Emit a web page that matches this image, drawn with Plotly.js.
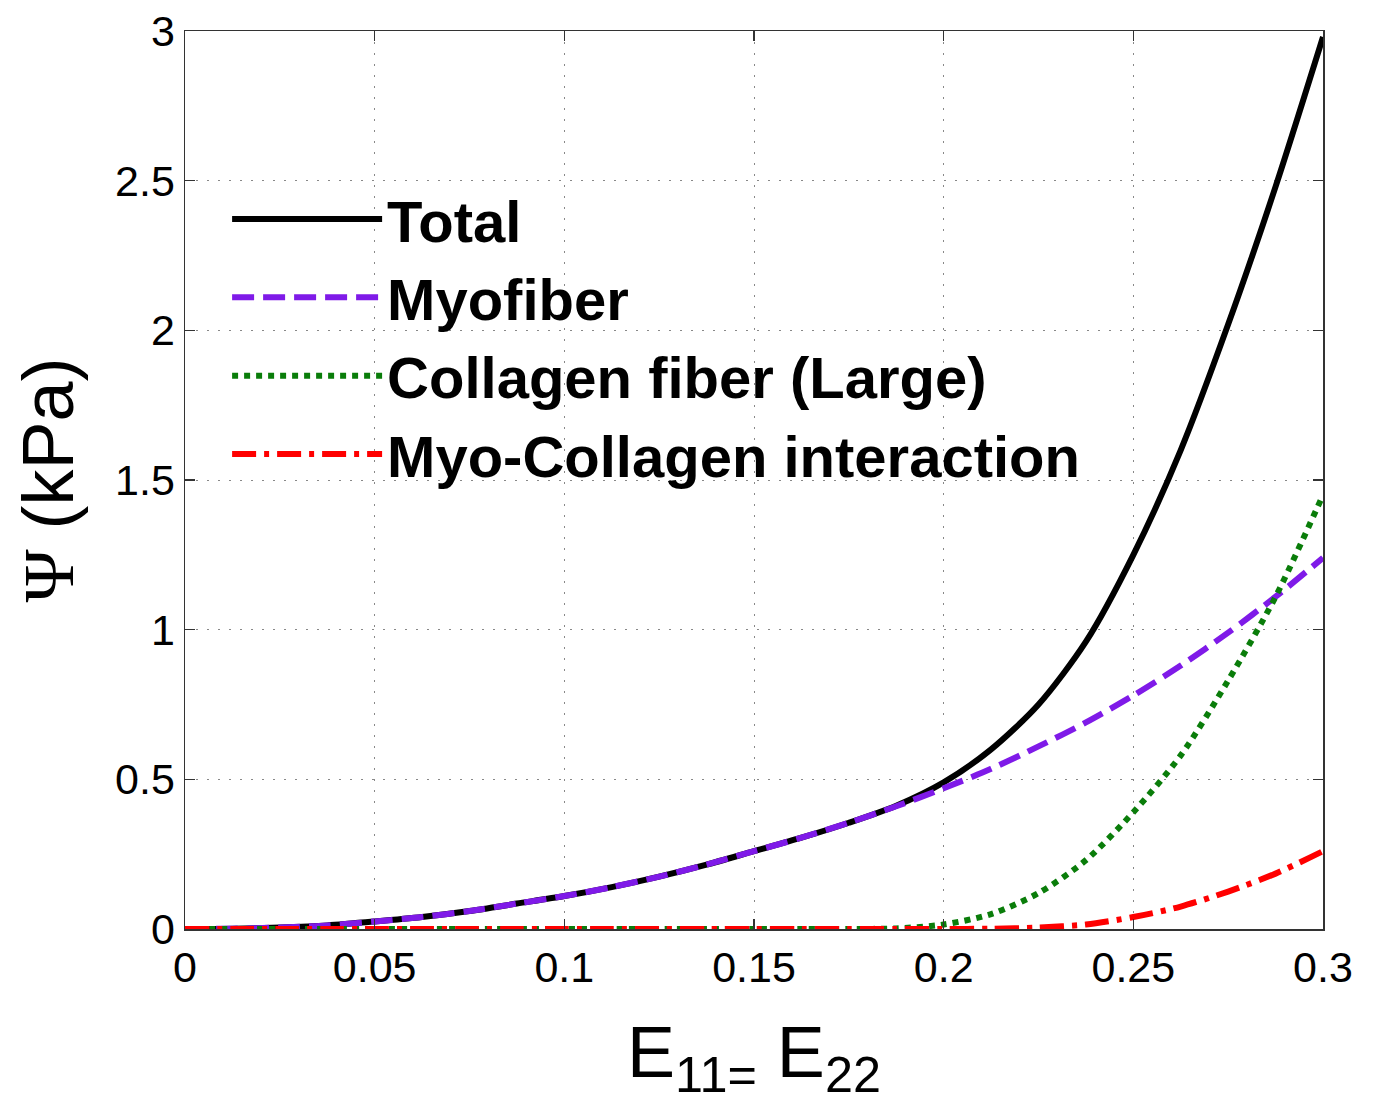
<!DOCTYPE html>
<html>
<head>
<meta charset="utf-8">
<script src="https://cdn.plot.ly/plotly-3.0.1.min.js"></script>
<style>html,body{margin:0;padding:0;background:#fff;}#chart{width:1375px;height:1104px;}</style>
</head>
<body>
<div id="chart"></div>
<script>
// Strain values E11 = E22
const strain = [0, 0.0125, 0.025, 0.0375, 0.05, 0.0625, 0.075, 0.0875, 0.1, 0.1125, 0.125, 0.1375, 0.15,
                0.1625, 0.175, 0.1875, 0.2, 0.2125, 0.225, 0.2375, 0.25, 0.2625, 0.275, 0.2875, 0.3];
// Strain energy (kPa)
const total       = [0, 0.001, 0.005, 0.012, 0.025, 0.04, 0.06, 0.085, 0.11, 0.14, 0.175, 0.215, 0.26,
                     0.305, 0.355, 0.412, 0.49, 0.60, 0.75, 0.96, 1.25, 1.60, 2.02, 2.48, 2.98];
const myofiber    = [0, 0.001, 0.005, 0.012, 0.025, 0.04, 0.06, 0.085, 0.11, 0.14, 0.175, 0.215, 0.26,
                     0.305, 0.355, 0.41, 0.47, 0.535, 0.61, 0.69, 0.78, 0.88, 0.99, 1.11, 1.24];
const collagen    = [0, 0, 0, 0, 0, 0, 0, 0, 0, 0, 0, 0, 0,
                     0, 0, 0.002, 0.015, 0.05, 0.12, 0.23, 0.39, 0.58, 0.83, 1.11, 1.45];
const interaction = [0, 0, 0, 0, 0, 0, 0, 0, 0, 0, 0, 0, 0,
                     0, 0, 0, 0, 0.001, 0.005, 0.015, 0.04, 0.075, 0.125, 0.185, 0.26];
const names = ['Total', 'Myofiber', 'Collagen fiber (Large)', 'Myo-Collagen interaction'];
const xTicks = [0, 0.05, 0.1, 0.15, 0.2, 0.25, 0.3];
const xTickText = ['0', '0.05', '0.1', '0.15', '0.2', '0.25', '0.3'];
const yTicks = [0, 0.5, 1, 1.5, 2, 2.5, 3];
const yTickText = ['0', '0.5', '1', '1.5', '2', '2.5', '3'];

const FONT = 'Liberation Sans, Arial, sans-serif';

const traces = [
  {x: strain, y: total, name: names[0], mode: 'lines', line: {color: '#000000', width: 6, shape: 'spline', smoothing: 0.8}},
  {x: strain, y: myofiber, name: names[1], mode: 'lines', line: {color: '#7f1ae8', width: 6, dash: '22px,9px', shape: 'spline', smoothing: 0.8}},
  {x: strain, y: collagen, name: names[2], mode: 'lines', line: {color: '#0a7d0a', width: 6, dash: '6px,6px', shape: 'spline', smoothing: 0.8}},
  {x: strain, y: interaction, name: names[3], mode: 'lines', line: {color: '#ff0000', width: 6, dash: '24px,8px,5px,8px', shape: 'spline', smoothing: 0.8}}
];

const axisCommon = {
  showline: true, mirror: 'ticks', linecolor: '#333', linewidth: 1.5,
  ticks: 'inside', ticklen: 10, tickwidth: 1.5, tickcolor: '#333',
  showgrid: true, gridcolor: '#888', gridwidth: 1, griddash: '2px,9px',
  zeroline: false, tickfont: {family: FONT, size: 43, color: '#000'}
};

const layout = {
  width: 1375, height: 1104,
  margin: {l: 185, r: 52, t: 31, b: 175},
  paper_bgcolor: '#fff', plot_bgcolor: '#fff',
  showlegend: true,
  legend: {
    x: 0.037, y: 0.84, xanchor: 'left', yanchor: 'top', xref: 'paper', yref: 'paper',
    bgcolor: 'rgba(0,0,0,0)', borderwidth: 0, itemwidth: 150,
    font: {family: FONT, size: 58, color: '#000', weight: 'bold'},
    tracegroupgap: 0
  },
  xaxis: Object.assign({}, axisCommon, {
    range: [0, 0.3], tickvals: xTicks, ticktext: xTickText,
    title: {text: 'E<sub>11=</sub> E<sub>22</sub>', font: {family: FONT, size: 72, color: '#000'}, standoff: 36}
  }),
  yaxis: Object.assign({}, axisCommon, {
    range: [0, 3], tickvals: yTicks, ticktext: yTickText,
    title: {text: "<span style='font-family:Liberation Serif'>Ψ</span> (kPa)", font: {family: FONT, size: 72, color: '#000'}, standoff: 18}
  })
};

Plotly.newPlot('chart', traces, layout, {displayModeBar: false, staticPlot: true});
</script>
</body>
</html>
